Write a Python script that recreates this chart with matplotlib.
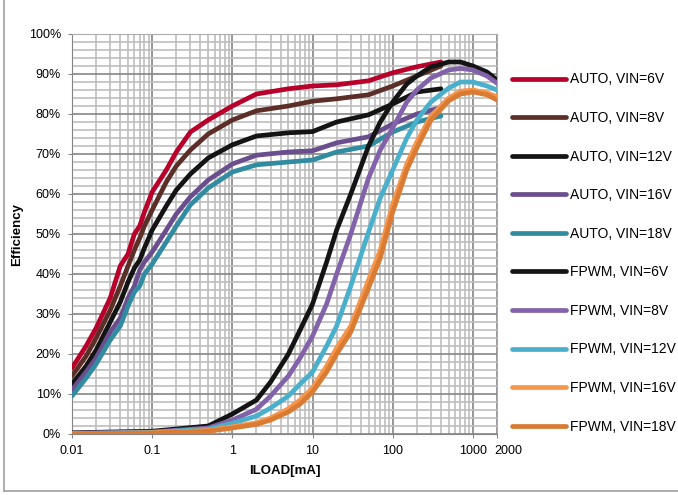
import numpy as np
import matplotlib
matplotlib.use("Agg")
import matplotlib.pyplot as plt
from matplotlib.ticker import FixedLocator, NullFormatter, FuncFormatter
import matplotlib.transforms as mtransforms

plt.rcParams['font.family'] = ['Liberation Sans', 'DejaVu Sans']

# AUTO mode curves
x_auto = [0.01, 0.015, 0.02, 0.03, 0.04, 0.05, 0.06, 0.07, 0.08, 0.1, 0.15, 0.2, 0.3, 0.5,
          1, 2, 5, 10, 20, 50, 100, 200, 400]
auto_6v = [16.5, 22, 26.5, 34, 42, 45, 50, 52, 55.5, 60.5, 66, 70.5, 75.5, 78.5,
           82, 85, 86.3, 87, 87.3, 88.3, 90.3, 91.8, 93]
auto_8v = [14.5, 19.5, 24, 31, 37, 42, 46, 49, 52, 56, 63, 67, 71, 75,
           78.5, 80.8, 82, 83.2, 83.8, 84.8, 87, 89.5, 92]
auto_12v = [12.5, 17, 21, 28, 33, 38, 41.5, 43.5, 46.5, 51, 57, 61, 65, 69,
            72.3, 74.5, 75.3, 75.6, 78, 79.8, 82.5, 85.5, 86.3]
auto_16v = [11, 15.5, 19, 25.5, 29, 34, 37, 41, 43, 45.5, 51, 55, 59.3, 63.5,
            67.5, 69.7, 70.5, 70.8, 72.8, 74.3, 77.5, 80, 81.6]
auto_18v = [9.5, 14, 17.5, 23.5, 27, 32, 35.5, 37, 40, 42.5, 48, 52, 57.3, 61.5,
            65.5, 67.3, 68, 68.5, 70.5, 72, 75.5, 78, 79.5]

# FPWM mode curves
x_fpwm = [0.01, 0.1, 0.5, 1, 2, 3, 5, 7, 10, 15, 20, 30, 50, 70, 100, 150, 200, 300,
          500, 700, 1000, 1500, 2000]
fpwm_6v = [0.3, 0.7, 2, 5, 8.5, 13, 20, 26, 32.5, 43, 51, 60, 72, 78, 83, 87.5, 89.5, 91.8,
           93, 93, 92, 90.5, 88.5]
fpwm_8v = [0.2, 0.5, 1.5, 3.5, 6.2, 9.5, 14.5, 19, 24.5, 32.5, 40, 50, 64, 71, 76.5, 83, 86, 89,
           91, 91.4, 91, 89.5, 87.7]
fpwm_12v = [0.1, 0.4, 1.2, 2.7, 4.5, 6.5, 9.5, 12.5, 15.5, 22, 27, 37, 50.5, 59, 66, 74, 78.5, 83,
            86.5, 88, 88, 87, 86]
fpwm_16v = [0.1, 0.3, 0.9, 1.8, 2.8, 4, 6.3, 8.5, 11.5, 17, 21.5, 27, 38.5, 46, 57.5, 67.5, 73, 79.5,
            84, 85.7, 86, 85.3, 84.3]
fpwm_18v = [0.1, 0.2, 0.7, 1.5, 2.4, 3.5, 5.5, 7.5, 10.5, 15.5, 20, 25.5, 36.5, 44, 55.5, 66, 71.5, 78.5,
            83.3, 85, 85.5, 84.8, 83.5]

auto_labels = ["AUTO, VIN=6V", "AUTO, VIN=8V", "AUTO, VIN=12V", "AUTO, VIN=16V", "AUTO, VIN=18V"]
fpwm_labels = ["FPWM, VIN=6V", "FPWM, VIN=8V", "FPWM, VIN=12V", "FPWM, VIN=16V", "FPWM, VIN=18V"]
auto_colors = ["#b8002b", "#5b2f27", "#141414", "#6b4e8e", "#318ca2"]
fpwm_colors = ["#141414", "#8263aa", "#4aafca", "#f7964a", "#d97b32"]

xticks = [0.01, 0.1, 1, 10, 100, 1000, 2000]
xtick_labels = ["0.01", "0.1", "1", "10", "100", "1000", "2000"]
yticks = list(range(0, 101, 10))

fig = plt.figure(figsize=(6.78, 4.95), dpi=100)
ax = fig.add_axes([72/678, 1-434/495, (497-72)/678, 400/495])

lw = 3.4
for ys, c, lab in zip([auto_6v, auto_8v, auto_12v, auto_16v, auto_18v], auto_colors, auto_labels):
    ax.plot(x_auto, ys, color=c, lw=lw, label=lab, solid_capstyle='round',
            solid_joinstyle='round', zorder=3)
for ys, c, lab in zip([fpwm_6v, fpwm_8v, fpwm_12v, fpwm_16v, fpwm_18v], fpwm_colors, fpwm_labels):
    ax.plot(x_fpwm, ys, color=c, lw=lw, label=lab, solid_capstyle='round',
            solid_joinstyle='round', zorder=3)

ax.set_xscale('log')
ax.set_xlim(0.01, 2000)
ax.set_ylim(0, 100)

minors = []
for d in [0.01, 0.1, 1, 10, 100]:
    minors += [d*k for k in range(2, 10)]
ax.xaxis.set_major_locator(FixedLocator(xticks))
ax.xaxis.set_minor_locator(FixedLocator(minors))
ax.xaxis.set_minor_formatter(NullFormatter())
ax.set_xticklabels(xtick_labels)
ax.yaxis.set_major_locator(FixedLocator(yticks))
ax.yaxis.set_minor_locator(FixedLocator(list(range(0, 101, 2))))
ax.yaxis.set_major_formatter(FuncFormatter(lambda v, p: f"{v:.0f}%"))

ax.grid(which='major', color='#858585', lw=1.2, zorder=0)
ax.grid(which='minor', color='#bdbdbd', lw=1.2, zorder=0)
ax.set_axisbelow(True)
ax.tick_params(which='major', length=3, color='#858585', labelsize=9, pad=5)
ax.tick_params(which='minor', length=0)
for s in ['left', 'bottom']:
    ax.spines[s].set_color('#858585')
for s in ['top', 'right']:
    ax.spines[s].set_color('#adadad')

# shift the 2000 label right like the original
lbl = ax.get_xticklabels()[-1]
lbl.set_transform(lbl.get_transform() + mtransforms.ScaledTranslation(11/100, 0, fig.dpi_scale_trans))

ax.set_xlabel("ILOAD[mA]", fontsize=9.5, fontweight='bold', labelpad=6)
ax.set_ylabel("Efficiency", fontsize=9.5, fontweight='bold', labelpad=4)

fig.legend(loc='center left', bbox_to_anchor=(512/678, 1-253/495), frameon=False,
           fontsize=10, handlelength=3.9, handletextpad=0.3, labelspacing=1.77,
           borderpad=0, borderaxespad=0)

# outer chart border
fig.add_artist(plt.Line2D([4/678, 4/678], [1-491/495, 1.0], color='#a0a0a0', lw=1.2))
fig.add_artist(plt.Line2D([4/678, 1.0], [1-491/495, 1-491/495], color='#a0a0a0', lw=1.2))

fig.savefig("out.png", dpi=100)
